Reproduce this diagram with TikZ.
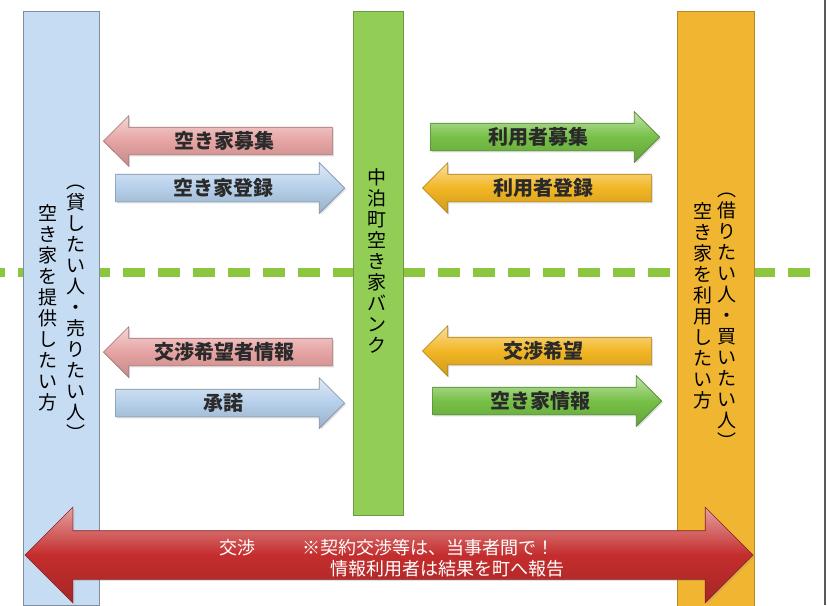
\documentclass[tikz,border=0pt]{standalone}
\usepackage{fontspec}
\newfontfamily\jp{Noto Sans CJK JP}
\usepackage{tikz}
\usetikzlibrary{shapes.arrows,shadows}

\definecolor{ownerblue}{HTML}{C6DCF2}
\definecolor{bankgreen}{HTML}{92CE55}
\definecolor{userorange}{HTML}{F0B632}
\definecolor{askpink}{HTML}{E6A3A3}
\definecolor{replyblue}{HTML}{B5CFEA}
\definecolor{infogreen}{HTML}{76C047}
\definecolor{wishorange}{HTML}{F2B624}
\definecolor{negored}{HTML}{C42D2D}
\definecolor{sepgreen}{HTML}{8CC63F}
\definecolor{labelgray}{HTML}{2A2A2A}

% vertical writing, one character per line
\def\tateend{}
\def\tatestep#1{\ifx#1\tateend\else
  \hbox to 1em{\hss#1\hss\vrule height .88em depth .12em width 0pt}%
  \expandafter\tatestep\fi}
\newcommand\tate[1]{\vbox{\baselineskip=21pt\lineskiplimit=-20pt\tatestep#1\tateend}}

\tikzset{
  column/.style={rectangle, inner sep=0pt, line width=1pt, anchor=north west},
  tatebox/.style={inner sep=0pt, anchor=north, font=\jp\fontsize{19}{21}\selectfont, text=black},
  arrowpaint/.style={draw=#1!70!black, top color=#1!45!white, bottom color=#1!85!black, middle color=#1},
  flow/.style={single arrow, single arrow head extend=11.5pt, inner xsep=0pt, inner ysep=0pt,
    text height=21pt, text depth=6pt, minimum height=229pt, line width=0.6pt,
    font=\jp\bfseries\fontsize{20}{20}\selectfont, text=labelgray,
    drop shadow={opacity=0.25, shadow xshift=1.5pt, shadow yshift=-1.5pt}},
  toleft/.style={shape border rotate=180},
  note/.style={inner sep=0pt, anchor=west, font=\jp\fontsize{18}{18}\selectfont, text=white}
}

\begin{document}
\begin{tikzpicture}[x=1pt, y=-1pt]
\useasboundingbox (0,0) rectangle (827,605);
\fill[white] (0,0) rectangle (827,605);

% upper / lower half
\coordinate (sepL) at (0,272);
\coordinate (sepR) at (810,272);
\draw[sepgreen, line width=9pt, dash pattern=on 22pt off 13pt, dash phase=17pt] (sepL) -- (sepR);

% the three parties
\node[column, draw=ownerblue!65!black, fill=ownerblue,
  minimum width=76pt, minimum height=594pt] (owner) at (23,11) {};
\node[column, draw=bankgreen!75!black, fill=bankgreen,
  minimum width=50pt, minimum height=504pt] (bank) at (353,11) {};
\node[column, draw=userorange!75!black, fill=userorange,
  minimum width=77pt, minimum height=600pt] (user) at (677,11) {};

\node[tatebox] (ownerWho) at (76,172) {\tate{︵貸したい人・売りたい人︶}};
\node[tatebox] (ownerWhat) at (48,204) {\tate{空き家を提供したい方}};
\node[tatebox] (bankName) at (377,167.5) {\tate{中泊町空き家バンク}};
\node[tatebox] (userWho) at (727,180) {\tate{︵借りたい人・買いたい人︶}};
\node[tatebox] (userWhat) at (703,202) {\tate{空き家を利用したい方}};

% registration
\node[flow, toleft, arrowpaint=askpink, anchor=tip] (callOwner) at (103,141) {空き家募集};
\node[flow, arrowpaint=replyblue, anchor=tip] (registerHouse) at (345,188) {空き家登録};
\node[flow, arrowpaint=infogreen, anchor=tip] (callUser) at (660,137) {利用者募集};
\node[flow, toleft, arrowpaint=wishorange, anchor=tip] (registerUser) at (422,188) {利用者登録};

% matching
\node[flow, toleft, arrowpaint=askpink, anchor=tip] (passUser) at (103,352) {交渉希望者情報};
\node[flow, arrowpaint=replyblue, anchor=tip] (consent) at (345,403) {承諾};
\node[flow, toleft, arrowpaint=wishorange, anchor=tip] (askNego) at (422,351) {交渉希望};
\node[flow, arrowpaint=infogreen, anchor=tip] (houseInfo) at (662,401) {空き家情報};

% negotiation between the parties
\node[double arrow, double arrow head extend=23.5pt, inner xsep=0pt, inner ysep=24pt,
  text height=0pt, text depth=0pt, minimum height=728pt, line width=0.6pt,
  arrowpaint=negored, drop shadow={opacity=0.25, shadow xshift=1.5pt, shadow yshift=-1.5pt}]
  (negotiate) at (389,555) {};
\node[note] (negoText) at (219,548) {交渉};
\node[note] (ruleOne) at (302,548) {※契約交渉等は、当事者間で！};
\node[note] (ruleTwo) at (330,569) {情報利用者は結果を町へ報告};

% page edge
\draw[black!65, line width=2pt] (824.5,0) -- (824.5,605);
\end{tikzpicture}
\end{document}
